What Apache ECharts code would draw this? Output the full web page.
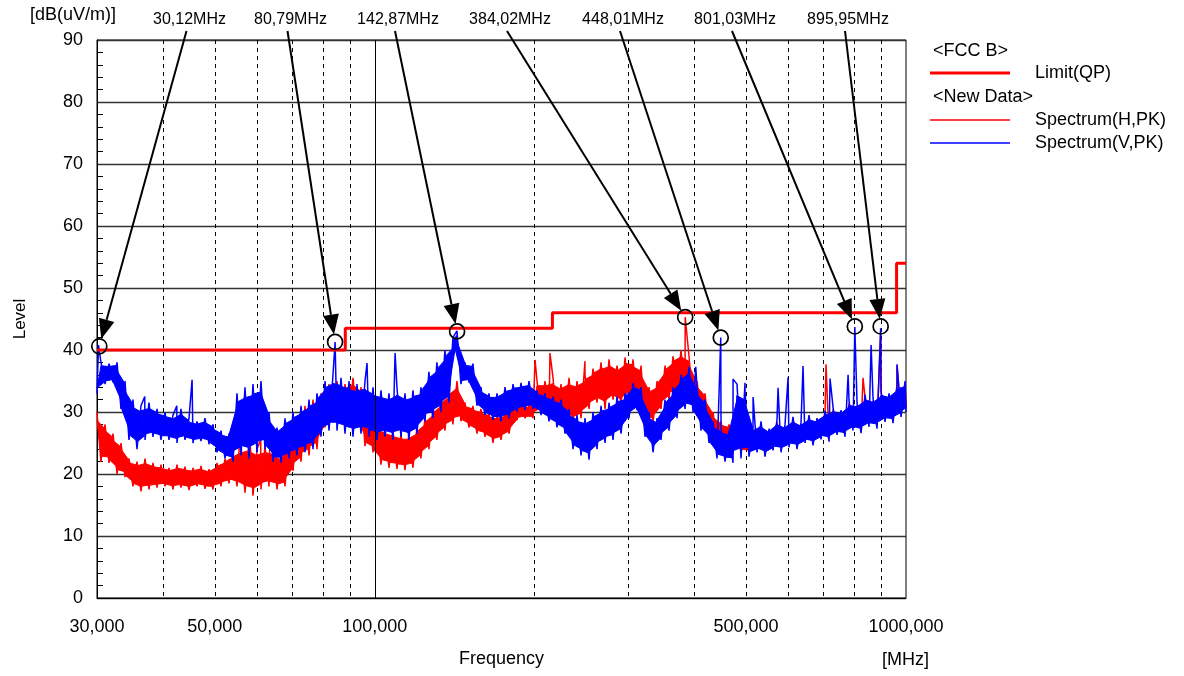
<!DOCTYPE html>
<html>
<head>
<meta charset="utf-8">
<title>FCC B radiated emission</title>
<script src="https://cdn.jsdelivr.net/npm/echarts@6/dist/echarts.min.js"></script>
<style>
  html, body { margin: 0; padding: 0; background: #fff; }
  #chart { width: 1184px; height: 676px; }
</style>
</head>
<body>
<div id="chart"></div>
<script>
// trace sample frequencies (MHz), shared by both spectra
var freqs = [
  30, 30.52, 31.06, 31.6, 32.15, 32.72, 33.29, 33.87, 34.46, 35.06,
  35.68, 36.3, 36.94, 37.58, 38.24, 38.91, 39.59, 40.28, 40.99, 41.7,
  42.43, 43.17, 43.93, 44.7, 45.48, 46.28, 47.09, 47.91, 48.75, 49.6,
  50.47, 51.35, 52.25, 53.16, 54.09, 55.04, 56, 56.98, 57.98, 58.99,
  60.02, 61.07, 62.14, 63.23, 64.33, 65.46, 66.6, 67.77, 68.95, 70.16,
  71.39, 72.64, 73.91, 75.2, 76.51, 77.85, 79.21, 80.6, 82.01, 83.44,
  84.9, 86.39, 87.9, 89.44, 91, 92.59, 94.21, 95.86, 97.54, 99.25,
  100.95, 102.72, 104.52, 106.34, 108.2, 110.09, 112.02, 113.98, 115.97, 118,
  120.05, 122.15, 124.29, 126.46, 128.67, 130.92, 133.21, 135.54, 137.91, 140.33,
  142.79, 145.28, 147.82, 150.41, 153.04, 155.71, 158.44, 161.21, 164.03, 166.9,
  169.87, 172.84, 175.86, 178.94, 182.07, 185.25, 188.49, 191.79, 195.14, 198.55,
  202.03, 205.56, 209.16, 212.82, 216.54, 220.33, 224.18, 228.1, 232.09, 236.15,
  240.29, 244.48, 248.76, 253.11, 257.54, 262.04, 266.63, 271.29, 276.03, 280.86,
  285.78, 290.77, 295.86, 301.03, 306.3, 311.65, 317.1, 322.65, 328.29, 334.03,
  339.88, 345.82, 351.87, 358.02, 364.28, 370.65, 377.14, 383.73, 390.44, 397.27,
  404.22, 411.29, 418.48, 425.8, 433.25, 440.82, 448.53, 456.38, 464.36, 472.48,
  480.75, 489.16, 497.71, 506.42, 515.28, 524.29, 533.46, 542.79, 552.28, 561.94,
  571.77, 581.77, 591.94, 602.3, 612.83, 623.55, 634.45, 645.55, 656.84, 668.33,
  680, 691.91, 704.01, 716.32, 728.85, 741.6, 754.57, 767.76, 781.19, 794.86,
  808.8, 822.9, 837.3, 851.94, 866.84, 882, 897.43, 913.12, 929.09, 945.34,
  961.9, 978.7, 995.82, 1000
];

// Spectrum(H,PK), dB(uV/m): alternating top / bottom of the noise band
var levelH = [
  30, 22, 28, 21.8, 26.5, 20, 25, 19.5, 22.5, 18,
  22, 17.2, 22.5, 17.5, 21.8, 17.8, 21.5, 18, 21, 17.5,
  21.5, 17.8, 21.2, 17.4, 21, 18, 21.3, 17.6, 20.8, 17.5,
  21.8, 18, 22.5, 18.5, 23.5, 18, 24.5, 17, 25, 16.5,
  24, 17.5, 24.5, 18, 24, 17.5, 23, 18, 25.5, 20.5,
  28, 22, 31, 23, 32, 24, 33, 27.5, 34.5, 28.5,
  35, 28.7, 34.5, 29, 35.5, 28.5, 34, 24.5, 29.5, 23.5,
  28, 21.5, 27.5, 21, 27, 20.8, 26.5, 20.6, 26.5, 21,
  27.5, 22.5, 29, 24, 30.5, 25.5, 32, 27, 33.5, 28,
  35, 28.5, 31.5, 27.5, 31, 26.5, 30.5, 26, 30, 25,
  29.5, 25.5, 30, 26.5, 30.5, 28.7, 31.4, 29, 31, 29,
  35, 30, 35, 29.5, 35.5, 28.5, 34.5, 29, 35.5, 28.2,
  35, 29, 36, 30.5, 37, 31.5, 38, 30.5, 38.5, 32,
  37.5, 31, 38.8, 32.5, 38.5, 31, 37.5, 28.5, 34, 28.2,
  35, 30.5, 37.5, 32, 39, 33, 40, 33, 39, 31,
  35, 29.5, 33, 26.6, 30, 25, 28.5, 24.5, 28, 24.5,
  27.5, 23.5, 27, 23.3, 27.1, 24, 28.1, 23.3, 26.9, 24.3,
  28.4, 24, 27.6, 24.8, 28.8, 24.5, 27.9, 25.5, 29.1, 25.1,
  28.6, 26.1, 29.8, 25.7, 30.4, 26.8, 29.9, 26.5, 31.4, 27.5,
  31.1, 27.1, 32.4, 28.1, 31.8, 27.8, 33.1, 28.9, 32.6, 28.7,
  34.1, 29.7, 34.6, 30.5
];

// Spectrum(V,PK)
var levelV = [
  33, 38, 34.5, 37.8, 34.8, 38, 30.5, 35, 25.5, 32,
  24, 31, 25.5, 31.5, 26, 30.5, 25.5, 30, 25.5, 29.5,
  25, 30.5, 25.5, 29, 25, 28.5, 25.3, 29, 24.8, 28,
  23.5, 27, 22.5, 26.5, 22, 33, 23, 34, 22.5, 34.5,
  23.5, 35, 24, 30, 22, 27.5, 21.8, 29, 22.5, 30,
  23, 31, 23.5, 32, 24, 33, 26, 35, 27, 36,
  27, 35.5, 26.5, 35, 26, 34.5, 26.5, 35, 26, 34,
  25.5, 33.5, 26, 33, 25.5, 34, 26, 33, 25.5, 33.5,
  26.5, 34, 28.5, 36.5, 29, 38, 30, 40, 31.5, 42,
  43.1, 34.5, 38, 34.8, 37.8, 31, 34, 29.5, 33, 28.7,
  33, 28.5, 34, 29, 34.5, 30, 34.7, 30.3, 35, 30.5,
  33.5, 29.5, 33, 28.5, 32.5, 27.5, 32, 26.5, 30.5, 24,
  29.5, 23, 29, 22.3, 30, 24, 31, 25, 31.5, 25.5,
  32.5, 26.5, 33, 29, 34.7, 30.3, 34, 26, 30, 23.5,
  29, 25.5, 32, 27, 34, 29, 36, 30.5, 37.3, 30,
  34, 27, 32, 25, 28.5, 22.5, 27.5, 22, 27, 21.8,
  34.5, 22.5, 33.5, 22.8, 27.5, 23.5, 28.5, 22.8, 27.3, 23.8,
  28.8, 23.5, 28, 24.3, 29.2, 24, 28.3, 25, 29.5, 24.6,
  29, 25.6, 30.2, 25.2, 30.8, 26.3, 30.3, 26, 31.8, 27,
  31.5, 26.6, 32.8, 27.6, 32.2, 27.3, 33.5, 28.4, 33, 28.2,
  34.5, 29.2, 35, 30
];

// narrow single-frequency spikes
var spikeFreqH = [55.8, 58.2, 61, 63.5, 200.3, 213.7, 248.7, 384.02, 707, 830, 895.95, 961.9];
var spikeLevelH = [27, 26, 25.5, 27, 38.4, 39.5, 38.2, 45.3, 37.7, 35.5, 42.5, 37.5];
var spikeFreqV = [30.2, 36.9, 42.4, 45.3, 84.2, 96.7, 109.2, 402, 448.01, 472.5, 497.7, 515.4, 574.3, 599.8, 640, 719.5, 778, 801.03, 859.6, 895.95, 961.9];
var spikeLevelV = [40.8, 32.5, 31, 35.2, 41.3, 37.9, 39.5, 37.3, 42, 35.3, 34.7, 32.4, 33.9, 35.6, 37.4, 35.4, 36, 43.7, 40.8, 43.5, 37.7];

// FCC class B limit (QP)
var limitFreq = [30, 88, 216, 960, 1000];
var limitLevel = [40, 43.5, 46, 54, 54];

// peak markers
var markerFreq = [30.3, 84.2, 142.87, 384.02, 448.01, 801.03, 895.95];
var markerLevel = [40.6, 41.3, 43, 45.3, 42, 43.8, 43.8];
var markerText = ['30,12MHz', '80,79MHz', '142,87MHz', '384,02MHz', '448,01MHz', '801,03MHz', '895,95MHz'];

// axis ticks
var gridFreq = [40, 50, 60, 70, 80, 90, 200, 300, 400, 500, 600, 700, 800, 900];
var labelFreq = [30, 50, 100, 500, 1000];

// layout of the marker captions above the plot (px from the plot's left edge)
var markerLabelOffset = [92.5, 193.5, 301, 413, 526, 638, 751];

var FONT = 'Liberation Sans';

function trace(levels, sFreq, sLevel) {
  var pts = freqs.map(function (f, i) { return [f, levels[i]]; });
  sFreq.forEach(function (f, i) { pts.push([f, sLevel[i]]); });
  pts.sort(function (a, b) { return a[0] - b[0]; });
  return pts;
}

// dense core of the noise band: triangle between three consecutive top/bottom
// readings, pulled toward the band's middle so the trace itself forms the ragged fringe
function band(levels, color, z) {
  return {
    type: 'custom', coordinateSystem: 'cartesian2d', z: z, silent: true,
    data: freqs.map(function (f, i) { return [f, levels[i]]; }),
    renderItem: function (params, api) {
      var i = params.dataIndexInside;
      if (i + 2 >= params.dataInsideLength) return null;
      var pts = [0, 1, 2].map(function (d) {
        return api.coord([api.value(0, i + d), api.value(1, i + d)]);
      });
      var mid = (pts[0][1] + pts[2][1]) / 4 + pts[1][1] / 2;
      pts = pts.map(function (p) { return [p[0], mid + (p[1] - mid) * 0.7]; });
      return { type: 'polygon', shape: { points: pts }, style: { fill: color, stroke: color, lineWidth: 1 } };
    }
  };
}

var chart = echarts.init(document.getElementById('chart'), null, { renderer: 'canvas' });

chart.setOption({
  animation: false,
  backgroundColor: '#fff',
  textStyle: { fontFamily: FONT, color: '#000' },
  grid: {
    left: 97, right: 278, top: 40, bottom: 78,
    show: true, borderColor: '#000', borderWidth: 1, backgroundColor: '#fff'
  },
  legend: [
    {
      left: 925, top: 59, selectedMode: false,
      itemWidth: 80, itemHeight: 3,
      textStyle: { fontSize: 18, color: '#000', fontFamily: FONT, padding: [0, 0, 0, 20] },
      data: [{ name: 'Limit(QP)', icon: 'rect' }]
    },
    {
      left: 925, top: 106, orient: 'vertical', selectedMode: false,
      itemWidth: 80, itemHeight: 1.5, itemGap: 5,
      textStyle: { fontSize: 18, lineHeight: 18, color: '#000', fontFamily: FONT, padding: [0, 0, 0, 20] },
      data: [{ name: 'Spectrum(H,PK)', icon: 'rect' }, { name: 'Spectrum(V,PK)', icon: 'rect' }]
    }
  ],
  graphic: [
    { type: 'text', left: 30, top: 6, style: { text: '[dB(uV/m)]', font: '18px ' + FONT, fill: '#000' } },
    { type: 'text', left: 882, top: 651, style: { text: '[MHz]', font: '18px ' + FONT, fill: '#000' } },
    { type: 'text', left: 933, top: 42, style: { text: '<FCC B>', font: '18px ' + FONT, fill: '#000' } },
    { type: 'text', left: 933, top: 88, style: { text: '<New Data>', font: '18px ' + FONT, fill: '#000' } }
  ],
  xAxis: {
    type: 'log', logBase: 10, min: 30, max: 1000,
    name: 'Frequency', nameLocation: 'middle', nameGap: 52,
    nameTextStyle: { fontSize: 18, color: '#000', fontFamily: FONT },
    axisLine: { show: true, lineStyle: { color: '#000', width: 1 } },
    axisTick: { show: false, customValues: gridFreq },
    minorTick: { show: false },
    minorSplitLine: { show: false },
    axisLabel: {
      customValues: labelFreq, margin: 20, fontSize: 18, color: '#000', fontFamily: FONT,
      formatter: function (v) { return Math.round(v) + ',000'; }
    },
    splitLine: { show: true, lineStyle: { color: '#000', width: 1, type: [4, 4] } }
  },
  yAxis: {
    type: 'value', min: 0, max: 90, interval: 10,
    name: 'Level', nameLocation: 'middle', nameGap: 68,
    nameTextStyle: { fontSize: 17, color: '#000', fontFamily: FONT },
    axisLine: { show: true, lineStyle: { color: '#000', width: 1 } },
    axisTick: { show: false, inside: true },
    minorTick: { show: true, splitNumber: 5, length: 6, lineStyle: { color: '#000', width: 1 } },
    axisLabel: { margin: 14, fontSize: 18, color: '#000', fontFamily: FONT },
    splitLine: { show: true, lineStyle: { color: '#333', width: 1.3 } }
  },
  series: [
    band(levelH, '#ff0000', 2),
    {
      name: 'Spectrum(H,PK)', type: 'line', symbol: 'none', z: 2,
      color: '#ff0000',
      lineStyle: { color: '#ff0000', width: 1.5 },
      data: trace(levelH, spikeFreqH, spikeLevelH),
      markLine: {
        silent: true, symbol: 'none', label: { show: false },
        lineStyle: { color: '#000', width: 1, type: 'solid' },
        data: [{ xAxis: 100 }]
      }
    },
    band(levelV, '#0000ff', 3),
    {
      name: 'Spectrum(V,PK)', type: 'line', symbol: 'none', z: 3,
      color: '#0000ff',
      lineStyle: { color: '#0000ff', width: 1.5 },
      data: trace(levelV, spikeFreqV, spikeLevelV)
    },
    {
      name: 'Limit(QP)', type: 'line', step: 'end', symbol: 'none', z: 4,
      color: '#ff0000',
      lineStyle: { color: '#ff0000', width: 3 },
      data: limitFreq.map(function (f, i) { return [f, limitLevel[i]]; })
    },
    {
      name: 'markers', type: 'custom', coordinateSystem: 'cartesian2d', z: 6, clip: false, silent: true,
      data: markerFreq.map(function (f, i) { return [f, markerLevel[i]]; }),
      renderItem: function (params, api) {
        var i = params.dataIndex;
        var cs = params.coordSys;
        var p = api.coord([api.value(0), api.value(1)]);
        var r = 7.5;
        var lx = cs.x + markerLabelOffset[i];
        var sx = lx - 3, sy = cs.y - 9;
        var dx = p[0] - sx, dy = p[1] - sy;
        var len = Math.sqrt(dx * dx + dy * dy);
        var ux = dx / len, uy = dy / len;
        var tx = p[0] - ux * r, ty = p[1] - uy * r;
        var bx = tx - ux * 20, by = ty - uy * 20;
        var nx = -uy, ny = ux;
        return {
          type: 'group',
          children: [
            { type: 'line', shape: { x1: sx, y1: sy, x2: bx, y2: by }, style: { stroke: '#000', lineWidth: 2 } },
            { type: 'polygon', shape: { points: [[tx, ty], [bx + nx * 8, by + ny * 8], [bx - nx * 8, by - ny * 8]] }, style: { fill: '#000' } },
            { type: 'circle', shape: { cx: p[0], cy: p[1], r: r }, style: { fill: 'none', stroke: '#000', lineWidth: 1.7 } },
            { type: 'text', style: { text: markerText[i], x: lx, y: cs.y - 20, align: 'center', verticalAlign: 'middle', font: '16px ' + FONT, fill: '#000' } }
          ]
        };
      }
    }
  ]
});
window.addEventListener('resize', function () { chart.resize(); });
</script>
</body>
</html>
